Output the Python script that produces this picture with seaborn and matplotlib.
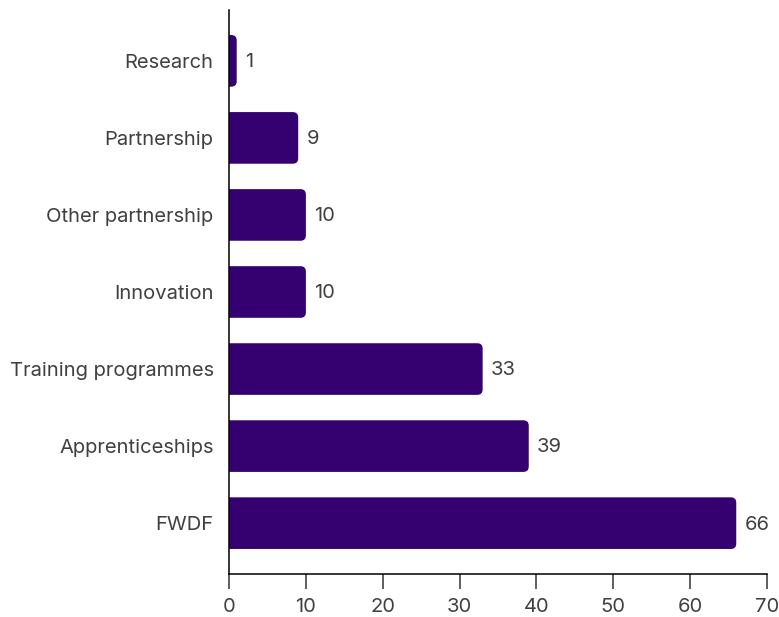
import matplotlib
matplotlib.use("Agg")
import matplotlib.pyplot as plt
import seaborn as sns
import pandas as pd
from matplotlib.patches import FancyBboxPatch

categories = ["Research", "Partnership", "Other partnership", "Innovation",
              "Training programmes", "Apprenticeships", "FWDF"]
counts = [1, 9, 10, 10, 33, 39, 66]
x_ticks = [0, 10, 20, 30, 40, 50, 60, 70]

bar_color = "#350070"
text_color = "#404040"

sns.set_theme(style="white")
plt.rcParams["font.family"] = ["Inter", "DejaVu Sans"]

df = pd.DataFrame({"category": categories, "count": counts})

fig = plt.figure(figsize=(7.79, 6.17), dpi=100)
ax = fig.add_axes([0.294, 0.0697, 0.6906, 0.9141])

sns.barplot(data=df, x="count", y="category", color=bar_color,
            width=0.67, saturation=1, ax=ax, orient="h")

ax.set_xlim(0, 70)
ax.set_ylim(6.66, -0.66)

# swap the square bars for bars with rounded right-hand corners;
# the left corners sit past x=0 and are clipped by the axes
radius_x = 0.7
aspect = 0.1
for patch in list(ax.patches):
    x0, y0 = patch.get_x(), patch.get_y()
    w, h = patch.get_width(), patch.get_height()
    patch.set_visible(False)
    rounded = FancyBboxPatch((x0 - 2 * radius_x, y0), w + 2 * radius_x, h,
                             boxstyle=f"round,pad=0,rounding_size={radius_x}",
                             mutation_aspect=aspect,
                             facecolor=bar_color, edgecolor="none", zorder=2)
    ax.add_patch(rounded)

for i, v in enumerate(counts):
    ax.annotate(str(v), xy=(v, i), xytext=(6, -1), textcoords="offset points",
                va="center", ha="left", fontsize=14.5, color=text_color)

ax.set_xticks(x_ticks)
ax.set_xlabel("")
ax.set_ylabel("")

for side in ["top", "right"]:
    ax.spines[side].set_visible(False)
for side in ["left", "bottom"]:
    ax.spines[side].set_color("black")
    ax.spines[side].set_linewidth(1.1)
    ax.spines[side].set_zorder(3)

ax.tick_params(axis="x", bottom=True, direction="out", length=11, width=1.1,
               color="#333333", labelsize=14.5, labelcolor=text_color, pad=6)
ax.tick_params(axis="y", left=False, length=0, labelsize=14.5,
               labelcolor=text_color, pad=11)

fig.savefig("out.png", dpi=100)
